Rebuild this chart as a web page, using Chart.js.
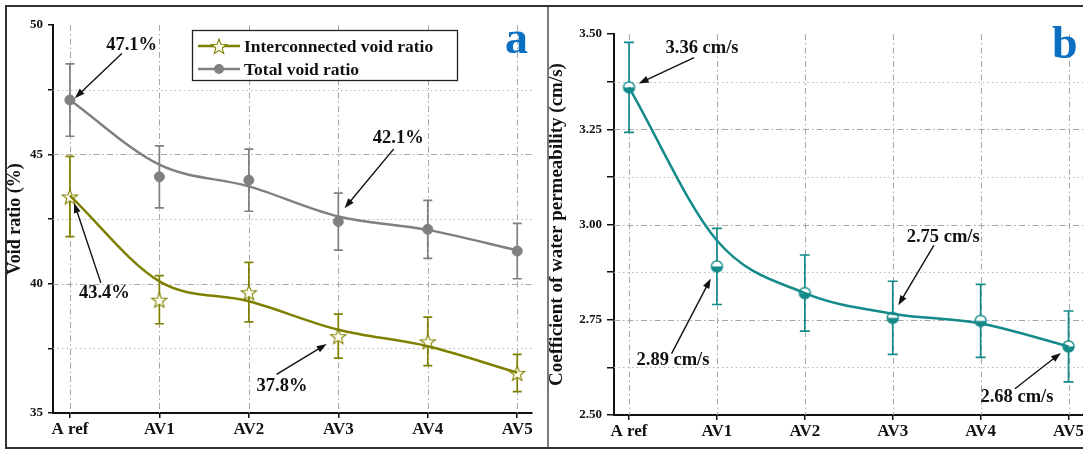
<!DOCTYPE html>
<html>
<head>
<meta charset="utf-8">
<script src="https://cdn.jsdelivr.net/npm/chart.js@4.4.0/dist/chart.umd.min.js"></script>
<style>
  body { margin: 0; width: 1083px; height: 451px; overflow: hidden; background: #fff; position: relative; }
  #frame { position: absolute; left: 5px; top: 5px; width: 1200px; height: 440px; border: 2px solid #333; }
  #divider { position: absolute; left: 547px; top: 7px; width: 2px; height: 440px; background: #7a7a7a; }
  canvas { position: absolute; top: 0; }
</style>
</head>
<body>
<div id="frame"></div>
<div id="divider"></div>
<canvas id="chart-a" width="547" height="451" style="left:0"></canvas>
<canvas id="chart-b" width="560" height="451" style="left:547px"></canvas>
<script>
// ---- data ----
const categories = ['A ref', 'AV1', 'AV2', 'AV3', 'AV4', 'AV5'];

// panel a: void ratio (%)
const totalVoid = [47.1, 44.13, 44.0, 42.4, 42.1, 41.26];
const totalVoidErr = [1.4, 1.2, 1.2, 1.1, 1.12, 1.07];
const totalVoidFit = [47.1, 44.6, 43.76, 42.6, 42.08, 41.29];
const interVoid = [43.37, 39.38, 39.67, 37.97, 37.77, 36.55];
const interVoidErr = [1.55, 0.93, 1.15, 0.85, 0.94, 0.72];
const interVoidFit = [43.4, 40.09, 39.32, 38.22, 37.58, 36.56];
const yTicksA = [35, 37.5, 40, 42.5, 45, 47.5, 50];
const yLabelsA = [35, 40, 45, 50];

// panel b: coefficient of water permeability (cm/s)
const permeability = [3.36, 2.89, 2.82, 2.755, 2.747, 2.68];
const permeabilityErr = [0.118, 0.10, 0.10, 0.096, 0.096, 0.093];
const permeabilityFit = [3.36, 2.958, 2.82, 2.766, 2.74, 2.68];
const yTicksB = [2.5, 2.625, 2.75, 2.875, 3.0, 3.125, 3.25, 3.375, 3.5];
const yLabelsB = [2.5, 2.75, 3.0, 3.25, 3.5];

// callouts: text, text anchor, arrow tail -> arrow head (category index, value)
const notesA = [
  { text: '47.1%', at: [0.69, 49.2], from: [0.58, 48.9], to: [0.055, 47.17] },
  { text: '42.1%', at: [3.67, 45.63], from: [3.62, 45.21], to: [3.07, 42.92] },
  { text: '43.4%', at: [0.385, 39.64], from: [0.346, 40.03], to: [0.047, 43.12] },
  { text: '37.8%', at: [2.37, 36.03], from: [2.31, 36.49], to: [2.87, 37.67] }
];
const notesB = [
  { text: '3.36 cm/s', at: [0.83, 3.462], from: [0.74, 3.438], to: [0.11, 3.37] },
  { text: '2.89 cm/s', at: [0.50, 2.644], from: [0.484, 2.661], to: [0.93, 2.858] },
  { text: '2.75 cm/s', at: [3.574, 2.966], from: [3.468, 2.945], to: [3.063, 2.788] },
  { text: '2.68 cm/s', at: [4.413, 2.547], from: [4.39, 2.569], to: [4.914, 2.663] }
];

const FONT = "'Liberation Serif', 'Times New Roman', serif";
const OLIVE = '#808000';
const GRAY = '#808080';
const TEAL = '#148a8a';
const INK = '#111';

Chart.defaults.font.family = FONT;
Chart.defaults.color = INK;

function xy(vals) {
  return vals.map((v, i) => ({ x: i, y: v }));
}

function starMarker(r, fill, stroke) {
  const s = Math.ceil(r * 2 + 4);
  const c = document.createElement('canvas');
  c.width = c.height = s;
  const g = c.getContext('2d');
  g.translate(s / 2, s / 2 + 1);
  g.beginPath();
  for (let k = 0; k < 10; k++) {
    const rad = k % 2 ? r * 0.42 : r;
    const a = -Math.PI / 2 + k * Math.PI / 5;
    g.lineTo(rad * Math.cos(a), rad * Math.sin(a));
  }
  g.closePath();
  g.fillStyle = fill;
  g.fill();
  g.lineWidth = 1.1;
  g.strokeStyle = stroke;
  g.stroke();
  return c;
}

function halfMarker(r, color) {
  const s = Math.ceil(r * 2 + 4);
  const c = document.createElement('canvas');
  c.width = c.height = s;
  const g = c.getContext('2d');
  const m = s / 2;
  g.beginPath();
  g.arc(m, m, r, 0, Math.PI * 2);
  g.fillStyle = '#fff';
  g.fill();
  g.beginPath();
  g.arc(m, m, r, 0, Math.PI);
  g.closePath();
  g.fillStyle = color;
  g.fill();
  g.beginPath();
  g.arc(m, m, r, 0, Math.PI * 2);
  g.lineWidth = 1.4;
  g.strokeStyle = color;
  g.stroke();
  return c;
}

const starImg = starMarker(8, '#fffff2', OLIVE);
const halfImg = halfMarker(5.5, TEAL);

// dash-dot grid at labelled ticks and categories, dotted grid at half steps
function gridPlugin(majors, minors) {
  return {
    id: 'customGrid',
    beforeDatasetsDraw(chart) {
      const { ctx, chartArea: a, scales: { x, y } } = chart;
      ctx.save();
      ctx.lineWidth = 1;
      ctx.strokeStyle = '#a6a6a6';
      ctx.setLineDash([6, 3, 1.5, 3]);
      majors.forEach(v => {
        const py = Math.round(y.getPixelForValue(v)) + 0.5;
        if (py < a.top + 2 || py > a.bottom - 2) return;
        ctx.beginPath(); ctx.moveTo(a.left, py); ctx.lineTo(a.right, py); ctx.stroke();
      });
      categories.forEach((_, i) => {
        const px = Math.round(x.getPixelForValue(i)) + 0.5;
        ctx.beginPath(); ctx.moveTo(px, a.top); ctx.lineTo(px, a.bottom); ctx.stroke();
      });
      ctx.strokeStyle = '#b8b8b8';
      ctx.setLineDash([1.5, 3]);
      minors.forEach(v => {
        const py = Math.round(y.getPixelForValue(v)) + 0.5;
        ctx.beginPath(); ctx.moveTo(a.left, py); ctx.lineTo(a.right, py); ctx.stroke();
      });
      ctx.restore();
    }
  };
}

function errorBarPlugin(items) {
  return {
    id: 'errorBars',
    beforeDatasetsDraw(chart) {
      const { ctx, scales: { x, y } } = chart;
      items.forEach(item => {
        ctx.save();
        ctx.strokeStyle = item.color;
        ctx.lineWidth = 1.7;
        item.values.forEach((v, i) => {
          const px = x.getPixelForValue(i);
          const top = y.getPixelForValue(v + item.errors[i]);
          const bot = y.getPixelForValue(v - item.errors[i]);
          ctx.beginPath();
          ctx.moveTo(px, top); ctx.lineTo(px, bot);
          ctx.moveTo(px - item.cap, top); ctx.lineTo(px + item.cap, top);
          ctx.moveTo(px - item.cap, bot); ctx.lineTo(px + item.cap, bot);
          ctx.stroke();
        });
        ctx.restore();
      });
    }
  };
}

function notePlugin(notes) {
  return {
    id: 'notes',
    afterDatasetsDraw(chart) {
      const { ctx, scales: { x, y } } = chart;
      ctx.save();
      ctx.font = `bold 18.5px ${FONT}`;
      ctx.fillStyle = INK;
      ctx.strokeStyle = INK;
      ctx.textAlign = 'center';
      ctx.textBaseline = 'middle';
      notes.forEach(n => {
        ctx.fillText(n.text, x.getPixelForValue(n.at[0]), y.getPixelForValue(n.at[1]));
        const x1 = x.getPixelForValue(n.from[0]), y1 = y.getPixelForValue(n.from[1]);
        const x2 = x.getPixelForValue(n.to[0]), y2 = y.getPixelForValue(n.to[1]);
        const ang = Math.atan2(y2 - y1, x2 - x1);
        const hl = 10, hw = 3.5;
        ctx.lineWidth = 1.4;
        ctx.beginPath();
        ctx.moveTo(x1, y1);
        ctx.lineTo(x2 - Math.cos(ang) * hl * 0.8, y2 - Math.sin(ang) * hl * 0.8);
        ctx.stroke();
        ctx.beginPath();
        ctx.moveTo(x2, y2);
        ctx.lineTo(x2 - Math.cos(ang) * hl - Math.sin(ang) * hw, y2 - Math.sin(ang) * hl + Math.cos(ang) * hw);
        ctx.lineTo(x2 - Math.cos(ang) * hl + Math.sin(ang) * hw, y2 - Math.sin(ang) * hl - Math.cos(ang) * hw);
        ctx.closePath();
        ctx.fill();
      });
      ctx.restore();
    }
  };
}

function letterPlugin(letter, px, py) {
  return {
    id: 'panelLetter',
    afterDraw(chart) {
      const ctx = chart.ctx;
      ctx.save();
      ctx.font = `bold 46px ${FONT}`;
      ctx.fillStyle = '#0a6fc0';
      ctx.textAlign = 'left';
      ctx.textBaseline = 'alphabetic';
      ctx.fillText(letter, px, py);
      ctx.restore();
    }
  };
}

const legendPlugin = {
  id: 'boxLegend',
  afterDraw(chart) {
    const ctx = chart.ctx;
    const rows = [
      { label: 'Interconnected void ratio', color: OLIVE, img: starImg },
      { label: 'Total void ratio', color: GRAY, img: null }
    ];
    ctx.save();
    ctx.fillStyle = '#fff';
    ctx.fillRect(192, 30, 265, 51);
    ctx.lineWidth = 1.3;
    ctx.strokeStyle = '#222';
    ctx.strokeRect(192.5, 30.5, 265, 50);
    rows.forEach((r, k) => {
      const cy = 46 + k * 23;
      ctx.strokeStyle = r.color;
      ctx.lineWidth = 2.5;
      ctx.beginPath(); ctx.moveTo(198, cy); ctx.lineTo(240, cy); ctx.stroke();
      if (r.img) {
        ctx.drawImage(r.img, 219 - r.img.width / 2, cy - r.img.height / 2);
      } else {
        ctx.fillStyle = r.color;
        ctx.beginPath(); ctx.arc(219, cy, 5, 0, Math.PI * 2); ctx.fill();
      }
      ctx.fillStyle = INK;
      ctx.font = `bold 17.5px ${FONT}`;
      ctx.textBaseline = 'middle';
      ctx.fillText(r.label, 244, cy + 1);
    });
    ctx.restore();
  }
};

function axes(opts) {
  return {
    x: {
      type: 'linear',
      min: opts.xMin,
      max: opts.xMax,
      afterBuildTicks: s => { s.ticks = categories.map((_, i) => ({ value: i })); },
      afterFit: s => { s.height = opts.xHeight; },
      ticks: {
        callback: v => categories[v] ?? '',
        font: { size: 17, weight: 'bold' },
        color: INK,
        padding: 1,
        maxRotation: 0,
        autoSkip: false
      },
      grid: { drawOnChartArea: false, drawTicks: true, tickLength: 5, color: INK, lineWidth: 1.5 },
      border: { color: INK, width: 2 }
    },
    y: {
      min: opts.yTicks[0],
      max: opts.yTicks[opts.yTicks.length - 1],
      afterBuildTicks: s => { s.ticks = opts.yTicks.map(v => ({ value: v })); },
      afterFit: s => { s.width = opts.yWidth; },
      ticks: {
        callback: v => opts.yLabels.includes(v) ? opts.fmt(v) : '',
        font: { size: 13, weight: 'bold' },
        color: INK,
        padding: opts.tickPad,
        autoSkip: false
      },
      grid: { drawOnChartArea: false, drawTicks: true, tickLength: opts.tickLen, color: INK, lineWidth: 1.5 },
      border: { color: INK, width: 2 },
      title: {
        display: true,
        text: opts.title,
        font: { size: opts.titleSize, weight: 'bold', lineHeight: 1 },
        color: INK,
        padding: { top: opts.titlePad, bottom: 0 }
      }
    }
  };
}

new Chart(document.getElementById('chart-a'), {
  type: 'line',
  data: {
    datasets: [
      { data: xy(totalVoidFit), borderColor: GRAY, borderWidth: 2.5, pointRadius: 0, cubicInterpolationMode: 'monotone' },
      { data: xy(interVoidFit), borderColor: OLIVE, borderWidth: 2.5, pointRadius: 0, cubicInterpolationMode: 'monotone' },
      { data: xy(totalVoid), showLine: false, pointStyle: 'circle', pointRadius: 5, backgroundColor: GRAY, borderColor: GRAY, borderWidth: 1 },
      { data: xy(interVoid), showLine: false, pointStyle: starImg, pointRadius: 8 }
    ]
  },
  options: {
    responsive: false,
    animation: false,
    events: [],
    clip: false,
    layout: { padding: { top: 25, right: 15, bottom: 0, left: 0 } },
    plugins: { legend: { display: false }, tooltip: { enabled: false } },
    scales: axes({
      xMin: -0.189, xMax: 5.165, xHeight: 38,
      yTicks: yTicksA, yLabels: yLabelsA, fmt: v => String(v),
      yWidth: 53, tickLen: 5, tickPad: 5,
      title: 'Void ratio (%)', titleSize: 18, titlePad: 6
    })
  },
  plugins: [
    gridPlugin([40, 45], [37.5, 42.5, 47.5]),
    errorBarPlugin([
      { values: totalVoid, errors: totalVoidErr, color: GRAY, cap: 4.5 },
      { values: interVoid, errors: interVoidErr, color: OLIVE, cap: 4.5 }
    ]),
    notePlugin(notesA),
    legendPlugin,
    letterPlugin('a', 505, 53)
  ]
});

new Chart(document.getElementById('chart-b'), {
  type: 'line',
  data: {
    datasets: [
      { data: xy(permeabilityFit), borderColor: TEAL, borderWidth: 2.5, pointRadius: 0, cubicInterpolationMode: 'monotone' },
      { data: xy(permeability), showLine: false, pointStyle: halfImg, pointRadius: 6 }
    ]
  },
  options: {
    responsive: false,
    animation: false,
    events: [],
    clip: false,
    layout: { padding: { top: 34, right: 7, bottom: 0, left: 0 } },
    plugins: { legend: { display: false }, tooltip: { enabled: false } },
    scales: axes({
      xMin: -0.171, xMax: 5.358, xHeight: 36,
      yTicks: yTicksB, yLabels: yLabelsB, fmt: v => v.toFixed(2),
      yWidth: 67, tickLen: 7, tickPad: 5,
      title: 'Coefficient of water permeability (cm/s)', titleSize: 19, titlePad: 1
    })
  },
  plugins: [
    gridPlugin([2.75, 3.0, 3.25], [2.625, 2.875, 3.125, 3.375]),
    errorBarPlugin([
      { values: permeability, errors: permeabilityErr, color: TEAL, cap: 5 }
    ]),
    notePlugin(notesB),
    letterPlugin('b', 505, 58)
  ]
});
</script>
</body>
</html>
